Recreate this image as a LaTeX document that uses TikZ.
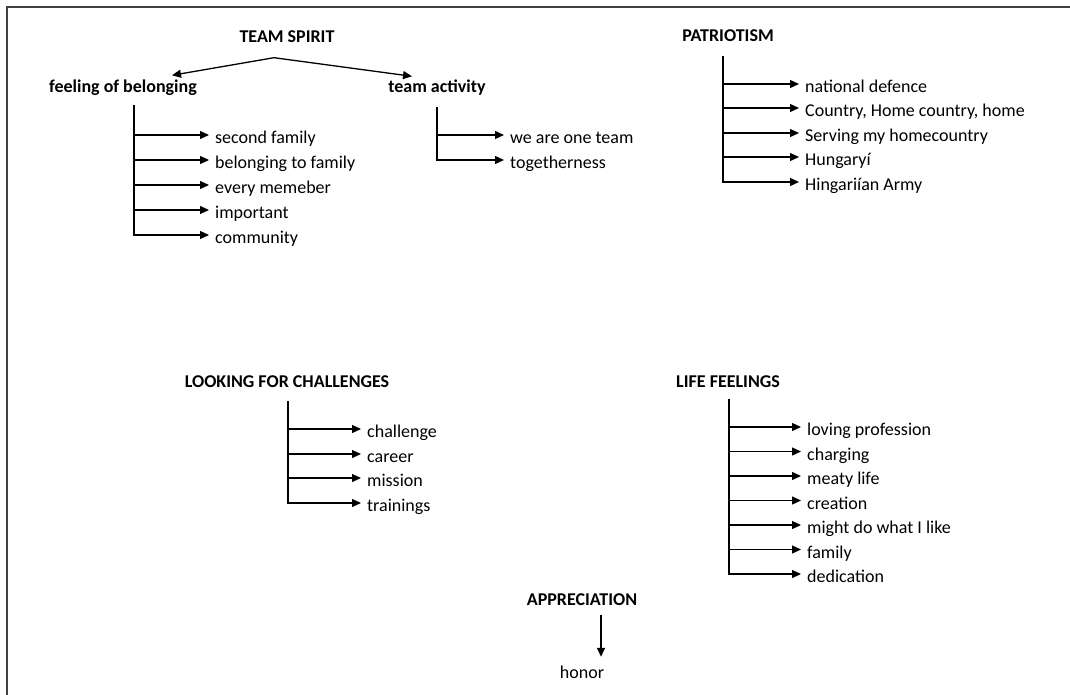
\documentclass[tikz,border=0pt]{standalone}
\usepackage{fontspec}
\setmainfont{Carlito}
\usetikzlibrary{arrows.meta, positioning}

\begin{document}
\begin{tikzpicture}[x=1pt, y=-1pt,
    every node/.style={font=\fontsize{18}{22}\selectfont},
    head/.style={font=\fontsize{18}{22}\selectfont\bfseries, inner sep=2pt, text height=13pt, text depth=4pt},
    plain/.style={inner sep=2pt, text height=13pt, text depth=4pt},
    item/.style={anchor=west, inner xsep=6pt, inner ysep=0pt, text height=17pt, text depth=0pt},
    arr/.style={-{Triangle[length=9pt,width=8pt]}, line width=1.3pt}]
    \useasboundingbox (0,0) rectangle (1070,695);

    % Frame (top and left only)
    \draw[black!75, line width=2pt] (7,695) -- (7,7) -- (1070,7);

    % Headings
    \node[head] (ts)  at (287,38)  {TEAM SPIRIT};
    \node[head] (fb)  at (123,88)  {feeling of belonging};
    \node[head] (ta)  at (437,88)  {team activity};
    \node[head] (pat) at (728,37)  {PATRIOTISM};
    \node[head] (lfc) at (287,383) {LOOKING FOR CHALLENGES};
    \node[head] (lf)  at (728,383) {LIFE FEELINGS};
    \node[head] (app) at (582,601) {APPRECIATION};
    \node[plain] (hon) at (582,674) {honor};

    % Team spirit split
    \draw[arr] ([xshift=-13pt,yshift=-9pt]ts.south) -- ([xshift=49pt,yshift=2pt]fb.north);
    \draw[arr] ([xshift=-13pt,yshift=-9pt]ts.south) -- ([xshift=-25pt,yshift=1pt]ta.north);

    % Feeling of belonging
    \coordinate (fbtop) at (134,105);
    \node[item] (fb1) at (209,135) {second family};
    \node[item] (fb2) at (209,160) {belonging to family};
    \node[item] (fb3) at (209,185) {every memeber};
    \node[item] (fb4) at (209,210) {important};
    \node[item] (fb5) at (209,235) {community};
    \foreach \i in {1,...,5} \draw[arr] (fbtop) |- (fb\i.west);

    % Team activity
    \coordinate (tatop) at (437,107);
    \node[item] (ta1) at (504,135) {we are one team};
    \node[item] (ta2) at (504,160) {togetherness};
    \foreach \i in {1,2} \draw[arr] (tatop) |- (ta\i.west);

    % Patriotism
    \coordinate (pattop) at (723,56);
    \node[item] (pat1) at (799,84)  {national defence};
    \node[item] (pat2) at (799,108) {Country, Home country, home};
    \node[item] (pat3) at (799,133) {Serving my homecountry};
    \node[item] (pat4) at (799,157) {Hungaryí};
    \node[item] (pat5) at (799,182) {Hingariían Army};
    \foreach \i in {1,...,5} \draw[arr] (pattop) |- (pat\i.west);

    % Looking for challenges
    \coordinate (lfctop) at (288,401);
    \node[item] (lfc1) at (361,429) {challenge};
    \node[item] (lfc2) at (361,454) {career};
    \node[item] (lfc3) at (361,478) {mission};
    \node[item] (lfc4) at (361,503) {trainings};
    \foreach \i in {1,...,4} \draw[arr] (lfctop) |- (lfc\i.west);

    % Life feelings
    \coordinate (lftop) at (729,399);
    \node[item] (lf1) at (801,427)   {loving profession};
    \node[item] (lf2) at (801,451.5) {charging};
    \node[item] (lf3) at (801,476)   {meaty life};
    \node[item] (lf4) at (801,500.5) {creation};
    \node[item] (lf5) at (801,525)   {might do what I like};
    \node[item] (lf6) at (801,549.5) {family};
    \node[item] (lf7) at (801,574)   {dedication};
    \foreach \i in {1,...,7} \draw[arr] (lftop) |- (lf\i.west);

    % Appreciation
    \draw[arr] ([xshift=19pt,yshift=-3.5pt]app.south) -- ([xshift=19pt,yshift=6.5pt]hon.north);
\end{tikzpicture}
\end{document}
